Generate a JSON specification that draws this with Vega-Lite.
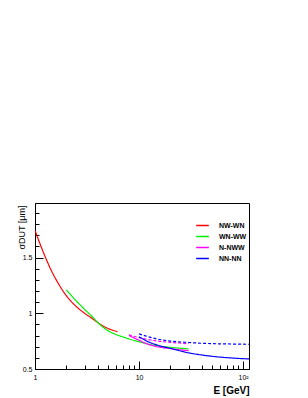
{
  "$schema": "https://vega.github.io/schema/vega-lite/v6.json",
  "autosize": "none",
  "width": 214,
  "height": 166,
  "padding": {"left": 35, "top": 203, "right": 59, "bottom": 29},
  "background": "white",
  "config": {
    "view": {"stroke": "black", "strokeWidth": 1},
    "font": "Liberation Sans",
    "axis": {"domainColor": "black", "tickColor": "black", "labelColor": "black", "titleColor": "black", "grid": false}
  },
  "data": {"values": [
    {"series": "NW-WN", "style": "solid", "curve": "r1", "E": 1.0, "sigma": 1.744},
    {"series": "NW-WN", "style": "solid", "curve": "r1", "E": 1.1, "sigma": 1.64},
    {"series": "NW-WN", "style": "solid", "curve": "r1", "E": 1.25, "sigma": 1.51},
    {"series": "NW-WN", "style": "solid", "curve": "r1", "E": 1.4, "sigma": 1.405},
    {"series": "NW-WN", "style": "solid", "curve": "r1", "E": 1.6, "sigma": 1.3},
    {"series": "NW-WN", "style": "solid", "curve": "r1", "E": 1.75, "sigma": 1.238},
    {"series": "NW-WN", "style": "solid", "curve": "r1", "E": 2.0, "sigma": 1.158},
    {"series": "NW-WN", "style": "solid", "curve": "r1", "E": 2.2, "sigma": 1.112},
    {"series": "NW-WN", "style": "solid", "curve": "r1", "E": 2.5, "sigma": 1.06},
    {"series": "NW-WN", "style": "solid", "curve": "r1", "E": 3.0, "sigma": 1.0},
    {"series": "NW-WN", "style": "solid", "curve": "r1", "E": 3.4, "sigma": 0.965},
    {"series": "NW-WN", "style": "solid", "curve": "r1", "E": 4.0, "sigma": 0.918},
    {"series": "NW-WN", "style": "solid", "curve": "r1", "E": 4.5, "sigma": 0.886},
    {"series": "NW-WN", "style": "solid", "curve": "r1", "E": 5.0, "sigma": 0.865},
    {"series": "NW-WN", "style": "solid", "curve": "r1", "E": 5.6, "sigma": 0.848},
    {"series": "NW-WN", "style": "solid", "curve": "r1", "E": 6.2, "sigma": 0.836},
    {"series": "WN-WW", "style": "solid", "curve": "g1", "E": 2.0, "sigma": 1.21},
    {"series": "WN-WW", "style": "solid", "curve": "g1", "E": 2.5, "sigma": 1.11},
    {"series": "WN-WW", "style": "solid", "curve": "g1", "E": 3.0, "sigma": 1.035},
    {"series": "WN-WW", "style": "solid", "curve": "g1", "E": 3.5, "sigma": 0.975},
    {"series": "WN-WW", "style": "solid", "curve": "g1", "E": 4.0, "sigma": 0.918},
    {"series": "WN-WW", "style": "solid", "curve": "g1", "E": 5.0, "sigma": 0.845},
    {"series": "WN-WW", "style": "solid", "curve": "g1", "E": 6.0, "sigma": 0.81},
    {"series": "WN-WW", "style": "solid", "curve": "g1", "E": 7.0, "sigma": 0.788},
    {"series": "WN-WW", "style": "solid", "curve": "g1", "E": 8.0, "sigma": 0.77},
    {"series": "WN-WW", "style": "solid", "curve": "g1", "E": 10.0, "sigma": 0.745},
    {"series": "WN-WW", "style": "solid", "curve": "g1", "E": 12.0, "sigma": 0.725},
    {"series": "WN-WW", "style": "solid", "curve": "g1", "E": 15.0, "sigma": 0.708},
    {"series": "WN-WW", "style": "solid", "curve": "g1", "E": 20.0, "sigma": 0.694},
    {"series": "WN-WW", "style": "solid", "curve": "g1", "E": 25.0, "sigma": 0.686},
    {"series": "WN-WW", "style": "solid", "curve": "g1", "E": 30.0, "sigma": 0.681},
    {"series": "N-NWW", "style": "solid", "curve": "m1", "E": 8.0, "sigma": 0.8},
    {"series": "N-NWW", "style": "solid", "curve": "m1", "E": 9.0, "sigma": 0.778},
    {"series": "N-NWW", "style": "solid", "curve": "m1", "E": 10.0, "sigma": 0.758},
    {"series": "N-NWW", "style": "solid", "curve": "m1", "E": 12.0, "sigma": 0.725},
    {"series": "N-NWW", "style": "solid", "curve": "m1", "E": 15.0, "sigma": 0.7},
    {"series": "N-NWW", "style": "solid", "curve": "m1", "E": 20.0, "sigma": 0.683},
    {"series": "N-NWW", "style": "solid", "curve": "m1", "E": 25.0, "sigma": 0.672},
    {"series": "N-NWW", "style": "solid", "curve": "m1", "E": 30.0, "sigma": 0.665},
    {"series": "N-NWW", "style": "dashed", "curve": "m2", "E": 8.0, "sigma": 0.806},
    {"series": "N-NWW", "style": "dashed", "curve": "m2", "E": 10.0, "sigma": 0.782},
    {"series": "N-NWW", "style": "dashed", "curve": "m2", "E": 12.0, "sigma": 0.766},
    {"series": "N-NWW", "style": "dashed", "curve": "m2", "E": 15.0, "sigma": 0.751},
    {"series": "N-NWW", "style": "dashed", "curve": "m2", "E": 20.0, "sigma": 0.739},
    {"series": "N-NWW", "style": "dashed", "curve": "m2", "E": 30.0, "sigma": 0.727},
    {"series": "NN-NN", "style": "solid", "curve": "b1", "E": 10.0, "sigma": 0.79},
    {"series": "NN-NN", "style": "solid", "curve": "b1", "E": 12.0, "sigma": 0.748},
    {"series": "NN-NN", "style": "solid", "curve": "b1", "E": 15.0, "sigma": 0.715},
    {"series": "NN-NN", "style": "solid", "curve": "b1", "E": 20.0, "sigma": 0.685},
    {"series": "NN-NN", "style": "solid", "curve": "b1", "E": 30.0, "sigma": 0.645},
    {"series": "NN-NN", "style": "solid", "curve": "b1", "E": 40.0, "sigma": 0.626},
    {"series": "NN-NN", "style": "solid", "curve": "b1", "E": 60.0, "sigma": 0.607},
    {"series": "NN-NN", "style": "solid", "curve": "b1", "E": 80.0, "sigma": 0.598},
    {"series": "NN-NN", "style": "solid", "curve": "b1", "E": 114.0, "sigma": 0.59},
    {"series": "NN-NN", "style": "dashed", "curve": "b2", "E": 10.0, "sigma": 0.815},
    {"series": "NN-NN", "style": "dashed", "curve": "b2", "E": 12.0, "sigma": 0.792},
    {"series": "NN-NN", "style": "dashed", "curve": "b2", "E": 15.0, "sigma": 0.769},
    {"series": "NN-NN", "style": "dashed", "curve": "b2", "E": 20.0, "sigma": 0.751},
    {"series": "NN-NN", "style": "dashed", "curve": "b2", "E": 30.0, "sigma": 0.738},
    {"series": "NN-NN", "style": "dashed", "curve": "b2", "E": 40.0, "sigma": 0.731},
    {"series": "NN-NN", "style": "dashed", "curve": "b2", "E": 60.0, "sigma": 0.726},
    {"series": "NN-NN", "style": "dashed", "curve": "b2", "E": 80.0, "sigma": 0.724},
    {"series": "NN-NN", "style": "dashed", "curve": "b2", "E": 114.0, "sigma": 0.722}
  ]},
  "mark": {"type": "line", "strokeWidth": 1.2, "interpolate": "monotone", "clip": true},
  "encoding": {
    "x": {
      "field": "E", "type": "quantitative",
      "scale": {"type": "log", "domain": [1, 114], "nice": false},
      "axis": {
        "values": [1, 2, 3, 4, 5, 6, 7, 8, 9, 10, 20, 30, 40, 50, 60, 70, 80, 90, 100],
        "labelExpr": "datum.value == 1 ? '1' : datum.value == 10 ? '10' : datum.value == 100 ? '10²' : ''",
        "tickSize": {"condition": {"test": "datum.value == 1 || datum.value == 10 || datum.value == 100", "value": -8}, "value": -4},
        "labelPadding": 12,
        "labelFontSize": 7,
        "labelFlush": false,
        "labelOverlap": false,
        "title": "E [GeV]",
        "titleFontSize": 10,
        "titleFontWeight": "bold",
        "titleAnchor": "end",
        "titleAlign": "right",
        "titleBaseline": "middle",
        "titleX": 214,
        "titleY": 21
      }
    },
    "y": {
      "field": "sigma", "type": "quantitative",
      "scale": {"domain": [0.5, 1.99], "nice": false, "zero": false},
      "axis": {
        "values": [0.5, 0.6, 0.7, 0.8, 0.9, 1.0, 1.1, 1.2, 1.3, 1.4, 1.5, 1.6, 1.7, 1.8, 1.9],
        "labelExpr": "datum.value == 0.5 ? '0.5' : datum.value == 1 ? '1' : datum.value == 1.5 ? '1.5' : ''",
        "tickSize": {"condition": {"test": "datum.value == 0.5 || datum.value == 1 || datum.value == 1.5", "value": -8}, "value": -4},
        "labelPadding": 11,
        "labelFontSize": 7,
        "labelFlush": false,
        "labelOverlap": false,
        "title": "σDUT [μm]",
        "titleFontSize": 9,
        "titleFontWeight": "normal",
        "titleAngle": 270,
        "titleAlign": "right",
        "titleBaseline": "middle",
        "titleX": -14,
        "titleY": 2
      }
    },
    "color": {
      "field": "series", "type": "nominal",
      "scale": {"domain": ["NW-WN", "WN-WW", "N-NWW", "NN-NN"], "range": ["#ff0000", "#00ee00", "#ff00ff", "#0000ff"]},
      "legend": {
        "orient": "none", "legendX": 160, "legendY": 15,
        "title": null, "symbolType": "stroke", "symbolSize": 160, "symbolStrokeWidth": 1.5,
        "labelFontSize": 7, "labelFontWeight": "bold", "labelOffset": 9, "rowPadding": 0, "padding": 0
      }
    },
    "strokeDash": {
      "field": "style", "type": "nominal",
      "scale": {"domain": ["solid", "dashed"], "range": [[1, 0], [3, 2]]},
      "legend": null
    },
    "detail": {"field": "curve"}
  }
}
